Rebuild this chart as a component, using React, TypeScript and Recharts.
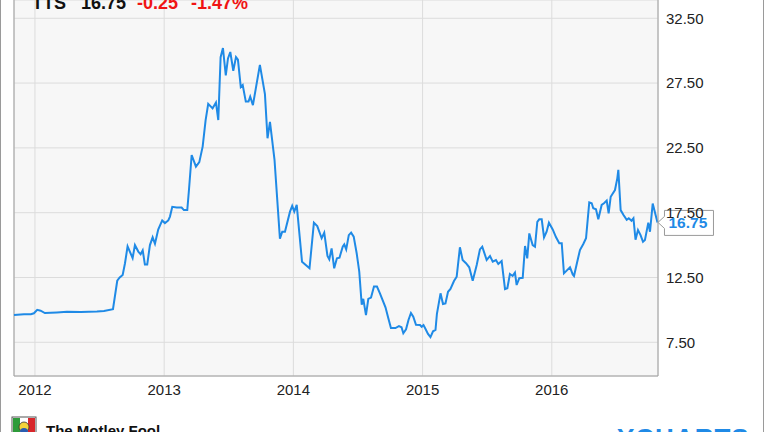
import React from 'react'
import { LineChart, Line, XAxis, YAxis, CartesianGrid, ReferenceLine } from 'recharts'

// decimal years (x) and closing prices
const dates = [
  2011.838, 2011.915, 2011.969, 2011.992, 2012.018, 2012.044, 2012.077, 2012.170, 2012.248, 2012.356,
  2012.480, 2012.534, 2012.604, 2012.637, 2012.656, 2012.679, 2012.697, 2012.717, 2012.756, 2012.774,
  2012.800, 2012.818, 2012.834, 2012.851, 2012.869, 2012.890, 2012.911, 2012.929, 2012.954, 2012.985,
  2013.006, 2013.032, 2013.045, 2013.063, 2013.097, 2013.135, 2013.153, 2013.179, 2013.192, 2013.213,
  2013.246, 2013.272, 2013.298, 2013.321, 2013.341, 2013.375, 2013.401, 2013.419, 2013.437, 2013.455,
  2013.477, 2013.494, 2013.512, 2013.535, 2013.556, 2013.571, 2013.593, 2013.608, 2013.632, 2013.653,
  2013.666, 2013.687, 2013.741, 2013.780, 2013.800, 2013.819, 2013.854, 2013.896, 2013.914, 2013.935,
  2013.974, 2013.991, 2014.007, 2014.026, 2014.067, 2014.125, 2014.159, 2014.185, 2014.219, 2014.239,
  2014.264, 2014.278, 2014.296, 2014.316, 2014.337, 2014.357, 2014.382, 2014.394, 2014.409, 2014.429,
  2014.447, 2014.467, 2014.490, 2014.510, 2014.529, 2014.541, 2014.562, 2014.580, 2014.601, 2014.624,
  2014.647, 2014.670, 2014.713, 2014.735, 2014.755, 2014.790, 2014.817, 2014.837, 2014.851, 2014.872,
  2014.891, 2014.910, 2014.928, 2014.949, 2014.980, 2014.993, 2015.007, 2015.019, 2015.042, 2015.061,
  2015.081, 2015.100, 2015.111, 2015.139, 2015.158, 2015.177, 2015.197, 2015.216, 2015.243, 2015.264,
  2015.289, 2015.310, 2015.336, 2015.361, 2015.388, 2015.419, 2015.444, 2015.462, 2015.496, 2015.522,
  2015.543, 2015.568, 2015.586, 2015.612, 2015.638, 2015.656, 2015.676, 2015.697, 2015.715, 2015.728,
  2015.748, 2015.775, 2015.793, 2015.810, 2015.826, 2015.852, 2015.870, 2015.888, 2015.903, 2015.922,
  2015.940, 2015.960, 2015.978, 2016.007, 2016.033, 2016.058, 2016.077, 2016.094, 2016.115, 2016.141,
  2016.162, 2016.172, 2016.197, 2016.218, 2016.244, 2016.265, 2016.290, 2016.309, 2016.321, 2016.342,
  2016.360, 2016.386, 2016.404, 2016.425, 2016.440, 2016.456, 2016.489, 2016.507, 2016.515, 2016.533,
  2016.555, 2016.580, 2016.596, 2016.617, 2016.632, 2016.648, 2016.667, 2016.687, 2016.706, 2016.721,
  2016.747, 2016.760, 2016.781, 2016.818,
]

const prices = [
  9.60, 9.66, 9.66, 9.74, 10.0, 9.94, 9.76, 9.80, 9.85, 9.83,
  9.87, 9.92, 10.05, 12.25, 12.5, 12.7, 13.6, 14.9, 14.0, 15.0,
  14.5, 14.3, 14.6, 13.5, 13.5, 15.0, 15.6, 15.1, 16.2, 16.9,
  16.7, 16.9, 17.2, 17.95, 17.9, 17.9, 17.7, 17.7, 19.25, 21.95,
  21.05, 21.4, 22.6, 24.65, 25.9, 25.55, 26.0, 24.65, 29.5, 30.2,
  28.1, 29.4, 29.9, 28.45, 29.5, 29.3, 27.2, 27.35, 26.07, 26.07,
  26.45, 25.8, 28.9, 26.65, 23.24, 24.5, 21.6, 15.5, 16.03, 16.03,
  17.58, 18.02, 17.58, 18.1, 13.72, 13.21, 16.73, 16.47, 15.53, 15.96,
  14.16, 13.9, 14.75, 13.21, 13.98, 14.03, 14.88, 15.06, 14.67, 15.77,
  15.96, 15.65, 14.37, 12.95, 10.4, 10.85, 9.6, 10.85, 10.95, 11.8,
  11.8, 11.28, 10.2, 9.35, 8.6, 8.6, 8.75, 8.66, 8.2, 8.5,
  9.22, 9.76, 9.47, 8.85, 8.83, 8.7, 8.83, 8.6, 8.15, 7.9,
  8.35, 8.45, 9.7, 11.28, 10.45, 10.5, 11.4, 11.62, 12.23, 12.56,
  14.83, 13.85, 13.6, 13.29, 12.25, 13.46, 14.67, 14.88, 13.85, 14.16,
  13.72, 13.85, 13.54, 13.77, 11.6, 11.67, 12.77, 12.62, 12.87, 11.92,
  12.44, 12.48, 14.93, 13.98, 15.9, 15.0, 14.88, 16.8, 16.99, 16.99,
  15.6, 16.03, 16.73, 16.21, 15.6, 15.14, 15.14, 12.82, 13.03, 13.29,
  12.74, 12.62, 13.72, 14.62, 15.09, 15.53, 18.3, 18.23, 17.84, 17.76,
  16.99, 18.1, 18.23, 18.43, 17.45, 18.73, 19.25, 20.15, 20.8, 17.7,
  17.32, 16.95, 17.07, 16.88, 17.07, 15.42, 16.16, 15.77, 15.26, 15.39,
  16.73, 16.03, 18.2, 16.75,
]

const yearTicks = [2012, 2013, 2014, 2015, 2016]
const priceTicks = [7.5, 12.5, 17.5, 22.5, 27.5, 32.5]
const xDomain: [number, number] = [2011.838, 2016.822]
const yDomain: [number, number] = [4.9, 33.91]

const ticker = 'TTS'
const lastPrice = '16.75'
const change = '-0.25'
const changePct = '-1.47%'

const n = Math.min(dates.length, prices.length)
const data = dates.slice(0, n).map((t, i) => ({ t, price: prices[i] }))

const FONT = '"Liberation Sans", Arial, Helvetica, sans-serif'
const BLUE = '#1f8ae6'

function LastDot(props: any) {
  const { cx, cy, index } = props
  if (index !== n - 1 || cx == null) return <g key={`d-${index}`} />
  const l = cx + 7
  const r = cx + 56
  return (
    <g key={`d-${index}`}>
      <path
        d={`M${cx + 0.5},${cy} L${l},${cy - 6} L${l},${cy - 12} L${r},${cy - 12} L${r},${cy + 13} L${l},${cy + 13} L${l},${cy + 6} Z`}
        fill="#fff"
        stroke="#9a9a9a"
        strokeWidth={1}
      />
      <text x={l + 4} y={cy + 6} fill={BLUE} fontSize={15.5} fontWeight="bold" fontFamily={FONT}>
        {lastPrice}
      </text>
    </g>
  )
}

export default function App() {
  return (
    <div style={{ position: 'absolute', left: 0, top: 0, width: 764, height: 432, overflow: 'hidden', background: '#fff', fontFamily: FONT }}>
      <LineChart width={764} height={432} data={data} margin={{ top: 0, right: 0, bottom: 0, left: 14 }}>
        <CartesianGrid stroke="#dcdcdc" fill="#f7f7f7" />
        <XAxis
          type="number"
          dataKey="t"
          domain={xDomain}
          ticks={yearTicks}
          tickFormatter={(v: number) => String(v)}
          axisLine={{ stroke: '#a0a0a0' }}
          tickLine={false}
          height={56}
          tick={{ fontSize: 15, fill: '#222', fontFamily: FONT }}
        />
        <YAxis
          orientation="right"
          domain={yDomain}
          ticks={priceTicks}
          tickFormatter={(v: number) => v.toFixed(2)}
          axisLine={{ stroke: '#a0a0a0' }}
          tickLine={false}
          width={106}
          tick={{ fontSize: 15, fill: '#222', fontFamily: FONT }}
        />
        <ReferenceLine x={xDomain[0]} stroke="#a0a0a0" />
        <Line
          type="linear"
          dataKey="price"
          stroke={BLUE}
          strokeWidth={2}
          dot={LastDot}
          activeDot={false}
          isAnimationActive={false}
        />
      </LineChart>
      <svg width={764} height={432} style={{ position: 'absolute', left: 0, top: 0, pointerEvents: 'none' }}>
        <line x1={0.5} y1={0} x2={0.5} y2={432} stroke="#9a9a9a" />
        <line x1={763.5} y1={0} x2={763.5} y2={432} stroke="#9a9a9a" />
        <g fontFamily={FONT} fontSize={18} fontWeight="bold">
          <text x={32} y={9} fill="#111">{ticker}</text>
          <text x={81} y={9} fill="#111">{lastPrice}</text>
          <text x={137} y={9} fill="#f01414">{change}</text>
          <text x={191} y={9} fill="#f01414">{changePct}</text>
        </g>
        {/* footer: Motley Fool logo and YCHARTS, cropped at the bottom */}
        <g>
          <rect x={12} y={417} width={24} height={16} fill="#fff" stroke="#555" />
          <rect x={13} y={418} width={7} height={14} fill="#2e9b3a" />
          <rect x={28} y={418} width={7} height={14} fill="#d8262b" />
          <circle cx={24} cy={427} r={5} fill="#f4d33a" stroke="#333" strokeWidth={0.8} />
          <circle cx={24} cy={432} r={4} fill="#2a5db0" />
        </g>
        <text x={46} y={436} fontFamily={FONT} fontSize={15} fontWeight="bold" fill="#111">The Motley Fool</text>
        <text x={617} y={447} fontFamily={FONT} fontSize={26} fontWeight="bold" fill={BLUE} letterSpacing={1}>YCHARTS</text>
      </svg>
    </div>
  )
}
